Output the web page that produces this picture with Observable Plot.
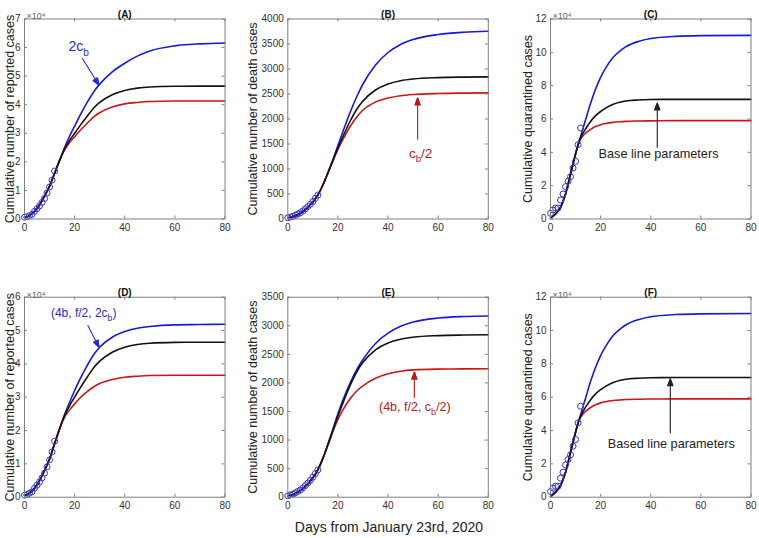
<!DOCTYPE html>
<html>
<head>
<meta charset="utf-8">
<script src="https://cdn.jsdelivr.net/npm/d3@7"></script>
<script src="https://cdn.jsdelivr.net/npm/@observablehq/plot@0.6"></script>
<style>
  html, body { margin: 0; padding: 0; background: #fff; }
  #root { position: relative; width: 759px; height: 538px; background: #fff; overflow: hidden;
          font-family: "Liberation Sans", Arial, Helvetica, sans-serif; }
  #root svg { position: absolute; overflow: visible; }
  #xlabel { position: absolute; top: 519px; left: 389px; transform: translateX(-50%);
            font-size: 14px; color: #222; white-space: nowrap; }
</style>
</head>
<body>
<div id="root"><div id="xlabel">Days from January 23rd, 2020</div></div>
<script>
// ---------------- data ----------------
const xTicks = [0, 20, 40, 60, 80];
const yTicksReportedA = [0, 10000, 20000, 30000, 40000, 50000, 60000, 70000];
const yTicksReportedD = [0, 10000, 20000, 30000, 40000, 50000, 60000];
const yTicksDeathB = [0, 500, 1000, 1500, 2000, 2500, 3000, 3500, 4000];
const yTicksDeathE = [0, 500, 1000, 1500, 2000, 2500, 3000, 3500];
const yTicksQuar = [0, 20000, 40000, 60000, 80000, 100000, 120000];

const obsDays = [0, 1, 2, 3, 4, 5, 6, 7, 8, 9, 10, 11, 12];
const obsReported = [600, 800, 1200, 1600, 2700, 3600, 4600, 5800, 7200, 9100, 11200, 13600, 16800];
const obsDeath = [24, 39, 52, 76, 100, 125, 162, 204, 249, 294, 350, 414, 479];
const obsQuar = [3400, 5400, 6600, 6600, 11400, 15000, 19400, 22600, 25400, 30600, 34600, 44600, 54600];

const daysModel = [0, 2, 4, 6, 8, 10, 12, 14, 16, 18, 20, 22, 25, 28, 30, 35, 40, 45, 50, 60, 70, 80];
const reportedBlack = [500, 1200, 2700, 5000, 8000, 11500, 16000, 20500, 24500, 27500, 30000, 32500, 36000, 39200, 40800, 43500, 45000, 45800, 46200, 46450, 46500, 46500];
const reportedBlueA = [500, 1200, 2700, 5000, 8000, 11500, 16000, 20500, 25000, 29000, 32500, 36000, 40800, 45000, 47200, 51500, 54500, 57000, 58800, 60600, 61300, 61600];
const reportedRedA  = [500, 1200, 2700, 5000, 8000, 11500, 16000, 20500, 24200, 26800, 28800, 30800, 33500, 36000, 37200, 39200, 40300, 40800, 41100, 41300, 41300, 41300];
const reportedBlueD = [500, 1200, 2700, 5000, 8000, 11500, 16000, 20500, 24800, 28500, 32000, 35200, 39500, 43200, 45000, 48000, 49700, 50700, 51200, 51700, 51800, 51900];
const reportedRedD  = [500, 1200, 2700, 5000, 8000, 11500, 16000, 20500, 24000, 26200, 28000, 29700, 31700, 33300, 34100, 35300, 36000, 36300, 36500, 36600, 36600, 36600];

const deathBlack = [25, 45, 90, 150, 230, 340, 480, 680, 920, 1170, 1420, 1650, 1970, 2230, 2360, 2580, 2700, 2765, 2800, 2828, 2838, 2842];
const deathBlueB = [25, 45, 90, 150, 230, 340, 480, 680, 930, 1190, 1470, 1750, 2150, 2500, 2700, 3080, 3330, 3490, 3590, 3690, 3735, 3755];
const deathRedB  = [25, 45, 90, 150, 230, 340, 480, 680, 915, 1160, 1390, 1590, 1860, 2070, 2180, 2340, 2420, 2465, 2490, 2510, 2518, 2522];
const deathBlueE = [25, 45, 90, 150, 230, 340, 480, 680, 925, 1190, 1460, 1700, 2010, 2270, 2410, 2690, 2870, 2990, 3065, 3135, 3162, 3172];
const deathRedE  = [25, 45, 90, 150, 230, 340, 480, 680, 910, 1150, 1360, 1530, 1730, 1880, 1950, 2080, 2160, 2205, 2228, 2242, 2246, 2247];

const daysQuar = [0, 2, 4, 6, 8, 10, 11, 12, 13, 14, 16, 18, 20, 22, 25, 28, 30, 35, 40, 50, 60, 80];
const quarBlue  = [500, 3000, 7000, 15000, 27000, 39000, 44500, 49500, 54500, 59500, 69500, 78000, 85000, 90500, 97000, 101200, 103300, 106500, 108300, 109600, 110000, 110200];
const quarBlack = [500, 3000, 7000, 15000, 27000, 39000, 44500, 48500, 51500, 54000, 58500, 62000, 64500, 66500, 68800, 70200, 70800, 71400, 71700, 71800, 71800, 71800];
const quarRed   = [500, 3000, 7000, 15000, 27000, 39000, 44500, 48000, 50000, 51500, 53800, 55500, 56600, 57300, 58000, 58400, 58600, 58800, 58900, 59000, 59000, 59000];

// annotations: text position and arrow (tail -> tip), in data units
const noteA = {text: "2c_b", x: 21.6, y: 60200, x1: 23.1, y1: 56200, x2: 29.7, y2: 46900};
const noteB = {text: "c_b/2", x: 53, y: 1314, x1: 51.8, y1: 1594, x2: 51.8, y2: 2420};
const noteC = {text: "Base line parameters", x: 43.1, y: 39200, x1: 42.6, y1: 43000, x2: 42.6, y2: 69500};
const noteD = {text: "(4b, f/2, 2c_b)", x: 23.6, y: 55100, x1: 25.3, y1: 51500, x2: 29.7, y2: 45000};
const noteE = {text: "(4b, f/2, c_b/2)", x: 50.7, y: 1575, x1: 50.5, y1: 1750, x2: 50.5, y2: 2187};
const noteF = {text: "Based line parameters", x: 48.2, y: 32000, x1: 47.8, y1: 38600, x2: 47.8, y2: 71000};

// ---------------- styles ----------------
const BLUE = "#1818e0", RED = "#d01414", BLACK = "#111111";
const NOTE_BLUE = "#2a2ad4", NOTE_RED = "#b51a1a", NOTE_BLACK = "#222";
const AXIS = "#808080";

const panels = [
  {title: "(A)", col: 0, row: 0, ylabel: "Cumulative number of reported cases", yTicks: yTicksReportedA, sci: true,
   days: daysModel, blue: reportedBlueA, black: reportedBlack, red: reportedRedA, obs: obsReported,
   note: noteA, noteColor: NOTE_BLUE, noteSize: 14},
  {title: "(B)", col: 1, row: 0, ylabel: "Cumulative number of death cases", yTicks: yTicksDeathB, sci: false,
   days: daysModel, blue: deathBlueB, black: deathBlack, red: deathRedB, obs: obsDeath,
   note: noteB, noteColor: NOTE_RED, noteSize: 13.5},
  {title: "(C)", col: 2, row: 0, ylabel: "Cumulative quarantined cases", yTicks: yTicksQuar, sci: true,
   days: daysQuar, blue: quarBlue, black: quarBlack, red: quarRed, obs: obsQuar,
   note: noteC, noteColor: NOTE_BLACK, noteSize: 12.7},
  {title: "(D)", col: 0, row: 1, ylabel: "Cumulative number of reported cases", yTicks: yTicksReportedD, sci: true,
   days: daysModel, blue: reportedBlueD, black: reportedBlack, red: reportedRedD, obs: obsReported,
   note: noteD, noteColor: NOTE_BLUE, noteSize: 12},
  {title: "(E)", col: 1, row: 1, ylabel: "Cumulative number of death cases", yTicks: yTicksDeathE, sci: false,
   days: daysModel, blue: deathBlueE, black: deathBlack, red: deathRedE, obs: obsDeath,
   note: noteE, noteColor: NOTE_RED, noteSize: 12.5},
  {title: "(F)", col: 2, row: 1, ylabel: "Cumulative quarantined cases", yTicks: yTicksQuar, sci: true,
   days: daysQuar, blue: quarBlue, black: quarBlack, red: quarRed, obs: obsQuar,
   note: noteF, noteColor: NOTE_BLACK, noteSize: 12.7}
];

const frameLeft = [24, 287.3, 550];
const frameTop = [18.5, 296.7];
const svgLeft = [0, 244, 500];
const svgWidth = [244, 256, 259];
const svgTop = [0, 270];
const svgHeight = [270, 268];
const labelX = [9, 252.5, 527.5];
const FW = 200.5, FH = 200;

function toRows(days, vals) { return days.map((d, i) => ({day: d, v: vals[i]})); }

function subscripts(svg) {
  d3.select(svg).selectAll("text").each(function() {
    const t = this.textContent;
    if (!t.includes("_b")) return;
    const fs = parseFloat(this.getAttribute("font-size") || getComputedStyle(this).fontSize) || 12;
    const parts = t.split("_b");
    const el = d3.select(this);
    el.text("");
    parts.forEach((p, i) => {
      if (i > 0) {
        el.append("tspan").attr("dy", (fs * 0.32) + "px").attr("font-size", (fs * 0.72) + "px").text("b");
        el.append("tspan").attr("dy", (-fs * 0.32) + "px").text(p);
      } else {
        el.append("tspan").text(p);
      }
    });
  });
}

function fillArrowHeads(svg) {
  d3.select(svg).selectAll('g[aria-label="arrow"] path').each(function() {
    const d = this.getAttribute("d");
    const parts = d.split("M").filter(s => s.trim().length);
    if (parts.length < 2) return;
    const col = this.getAttribute("stroke") || this.parentNode.getAttribute("stroke") || "#000";
    d3.select(this.parentNode).append("path")
      .attr("d", "M" + parts[parts.length - 1] + "Z")
      .attr("fill", col).attr("stroke", col).attr("stroke-linejoin", "miter");
  });
}

const root = document.getElementById("root");

for (const p of panels) {
  const ml = frameLeft[p.col] - svgLeft[p.col];
  const mt = frameTop[p.row] - svgTop[p.row];
  const width = svgWidth[p.col], height = svgHeight[p.row];
  const mr = width - ml - FW, mb = height - mt - FH;
  const yMax = p.yTicks[p.yTicks.length - 1];
  const fmt = p.sci ? (d => String(d / 10000)) : (d => String(d));
  const obsRows = toRows(obsDays, p.obs);
  const n = p.note;

  const marks = [
    Plot.line(toRows(p.days, p.blue), {x: "day", y: "v", stroke: BLUE, strokeWidth: 1.6, curve: "monotone-x"}),
    Plot.line(toRows(p.days, p.red), {x: "day", y: "v", stroke: RED, strokeWidth: 1.6, curve: "monotone-x"}),
    Plot.line(toRows(p.days, p.black), {x: "day", y: "v", stroke: BLACK, strokeWidth: 1.6, curve: "monotone-x"}),
    Plot.dot(obsRows, {x: "day", y: "v", r: 3, stroke: "#3434d8", strokeWidth: 1, fill: "none"}),
    Plot.frame({stroke: AXIS}),
    Plot.tickX(xTicks, {x: d => d, insetTop: FH - 3, stroke: AXIS}),
    Plot.tickX(xTicks, {x: d => d, insetBottom: FH - 3, stroke: AXIS}),
    Plot.tickY(p.yTicks, {y: d => d, insetRight: FW - 3, stroke: AXIS}),
    Plot.tickY(p.yTicks, {y: d => d, insetLeft: FW - 3, stroke: AXIS}),
    Plot.axisX({ticks: xTicks, tickSize: 0, tickPadding: 5, label: null, tickFormat: d => String(d), fill: "#333"}),
    Plot.axisY({ticks: p.yTicks, tickSize: 0, tickPadding: 4, label: null, tickFormat: fmt, fill: "#333"}),
    Plot.text([p.title], {frameAnchor: "top", dy: -8.6, fontWeight: "bold", fontSize: 10, fill: "#111"}),
    Plot.text([p.ylabel], {frameAnchor: "left", textAnchor: "middle", lineAnchor: "middle", rotate: -90, dx: labelX[p.col] - frameLeft[p.col], fontSize: 12.5, fill: "#222"}),
    Plot.arrow([n], {x1: "x1", y1: "y1", x2: "x2", y2: "y2", stroke: p.noteColor, strokeWidth: 1.1, headLength: 10, headAngle: 40}),
    Plot.text([n], {x: "x", y: "y", text: "text", fill: p.noteColor, fontSize: p.noteSize, textAnchor: "middle"})
  ];
  if (p.sci) {
    marks.push(Plot.text(["\u00d710\u2074"], {frameAnchor: "top-left", textAnchor: "start", dx: 2, dy: -6, fontSize: 9, fill: "#666"}));
  }

  const svg = Plot.plot({
    width, height,
    marginLeft: ml, marginRight: mr, marginTop: mt, marginBottom: mb,
    x: {domain: [0, 80]},
    y: {domain: [0, yMax]},
    style: {fontFamily: '"Liberation Sans", Arial, Helvetica, sans-serif', fontSize: "10px", background: "transparent", color: "#333"},
    marks
  });
  svg.style.left = svgLeft[p.col] + "px";
  svg.style.top = svgTop[p.row] + "px";
  root.appendChild(svg);
  subscripts(svg);
  fillArrowHeads(svg);
}
</script>
</body>
</html>
